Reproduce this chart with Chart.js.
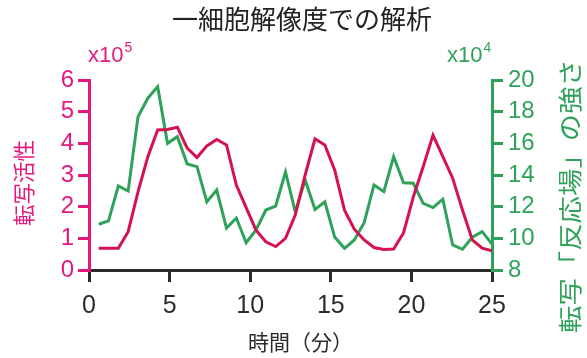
<!DOCTYPE html>
<html>
<head>
<meta charset="utf-8">
<script src="https://cdn.jsdelivr.net/npm/chart.js@4/dist/chart.umd.min.js"></script>
<style>
  html, body { margin: 0; padding: 0; background: #fff; }
  #wrap { width: 587px; height: 358px; position: relative; }
</style>
</head>
<body>
<div id="wrap"><canvas id="c" width="587" height="358"></canvas></div>
<script>
// Sampling times (minutes)
const times = [0.60, 1.21, 1.82, 2.43, 3.04, 3.65, 4.26, 4.87, 5.48, 6.09,
  6.70, 7.31, 7.92, 8.53, 9.14, 9.75, 10.36, 10.97, 11.58, 12.19,
  12.80, 13.41, 14.02, 14.63, 15.24, 15.85, 16.46, 17.07, 17.68, 18.29,
  18.90, 19.51, 20.12, 20.73, 21.34, 21.95, 22.56, 23.17, 23.78, 24.39, 25.00];

// Transcription activity (x10^5)
const activity = [0.69, 0.69, 0.69, 1.21, 2.47, 3.58, 4.42, 4.44, 4.51, 3.85,
  3.55, 3.92, 4.12, 3.95, 2.68, 1.97, 1.26, 0.89, 0.74, 1.00,
  1.74, 3.00, 4.14, 3.95, 3.16, 1.89, 1.29, 0.95, 0.71, 0.65,
  0.66, 1.17, 2.31, 3.26, 4.26, 3.58, 2.90, 1.89, 0.95, 0.69, 0.61];

// Strength of the transcription "reaction field" (x10^4)
const fieldStrength = [10.89, 11.10, 13.31, 12.99, 17.68, 18.85, 19.58, 16.00, 16.42, 14.70,
  14.53, 12.30, 13.05, 10.65, 11.28, 9.72, 10.53, 11.79, 12.04, 14.19,
  11.66, 13.69, 11.82, 12.31, 10.08, 9.37, 9.90, 10.99, 13.37, 12.95,
  15.16, 13.51, 13.48, 12.21, 11.94, 12.47, 9.58, 9.31, 10.07, 10.42, 9.64];

const xTicks = [0, 5, 10, 15, 20, 25];
const leftTicks = [0, 1, 2, 3, 4, 5, 6];
const rightTicks = [8, 10, 12, 14, 16, 18, 20];

const MAGENTA = '#e5187f';
const CRIMSON = '#d3124f';
const GREEN = '#2fa25a';
const DARK = '#2b2b2b';
const NUM_FONT = '"Liberation Sans", Arial, sans-serif';
const JP_FONT = '"Noto Sans CJK JP", sans-serif';

// Vertical text reading bottom-to-top, stretched/compressed to a given length
function drawVertical(ctx, text, cx, cy, length) {
  ctx.save();
  ctx.translate(cx, cy);
  ctx.rotate(-Math.PI / 2);
  const w = ctx.measureText(text).width;
  ctx.scale(length / w, 1);
  ctx.textAlign = 'center';
  ctx.textBaseline = 'middle';
  ctx.fillText(text, 0, 0);
  ctx.restore();
}

const labelsPlugin = {
  id: 'labels',
  afterDraw(chart) {
    const ctx = chart.ctx;
    const area = chart.chartArea;
    ctx.save();
    // title
    ctx.fillStyle = '#222';
    ctx.font = '26px ' + JP_FONT;
    ctx.textAlign = 'center';
    ctx.textBaseline = 'middle';
    ctx.fillText('一細胞解像度での解析', 302, 19);

    // axis titles
    ctx.fillStyle = MAGENTA;
    ctx.font = '22px ' + JP_FONT;
    drawVertical(ctx, '転写活性', 24, 183, 86);
    ctx.fillStyle = GREEN;
    ctx.font = '24px ' + JP_FONT;
    drawVertical(ctx, '転写「反応場」の強さ', 570, 196, 274);

    ctx.fillStyle = DARK;
    ctx.font = '21px ' + JP_FONT;
    ctx.textAlign = 'center';
    ctx.textBaseline = 'middle';
    ctx.fillText('時間（分）', (area.left + area.right) / 2 + 10, 342);

    // exponent labels
    ctx.textAlign = 'left';
    ctx.textBaseline = 'alphabetic';
    ctx.fillStyle = MAGENTA;
    ctx.font = '22px ' + NUM_FONT;
    ctx.fillText('x10', 88, 62);
    let w = ctx.measureText('x10').width;
    ctx.font = '14px ' + NUM_FONT;
    ctx.fillText('5', 88 + w + 1, 52);

    ctx.fillStyle = GREEN;
    ctx.font = '22px ' + NUM_FONT;
    ctx.fillText('x10', 447, 62);
    w = ctx.measureText('x10').width;
    ctx.font = '14px ' + NUM_FONT;
    ctx.fillText('4', 447 + w + 1, 52);
    ctx.restore();
  }
};

new Chart(document.getElementById('c'), {
  type: 'line',
  data: {
    datasets: [
      {
        label: '転写活性',
        data: times.map((t, i) => ({ x: t, y: activity[i] })),
        borderColor: CRIMSON,
        borderWidth: 3,
        pointRadius: 0,
        tension: 0,
        yAxisID: 'yL'
      },
      {
        label: '転写「反応場」の強さ',
        data: times.map((t, i) => ({ x: t, y: fieldStrength[i] })),
        borderColor: GREEN,
        borderWidth: 3,
        pointRadius: 0,
        tension: 0,
        yAxisID: 'yR'
      }
    ]
  },
  options: {
    responsive: false,
    animation: false,
    devicePixelRatio: 1,
    layout: { padding: { left: 0, right: 0, top: 80, bottom: 0 } },
    plugins: { legend: { display: false }, tooltip: { enabled: false }, title: { display: false } },
    scales: {
      x: {
        type: 'linear',
        min: 0, max: 25,
        afterFit(s) { s.height = 88; },
        afterBuildTicks(s) { s.ticks = xTicks.map(v => ({ value: v })); },
        border: { display: true, color: DARK, width: 3 },
        grid: { display: true, drawOnChartArea: false, drawTicks: true, tickLength: 12, color: DARK, lineWidth: 3 },
        ticks: { color: DARK, font: { family: NUM_FONT, size: 25 }, padding: 9, maxRotation: 0, autoSkip: false }
      },
      yL: {
        type: 'linear',
        position: 'left',
        min: 0, max: 6,
        afterFit(s) { s.width = 89; },
        afterBuildTicks(s) { s.ticks = leftTicks.map(v => ({ value: v })); },
        border: { display: true, color: MAGENTA, width: 3 },
        grid: { display: true, drawOnChartArea: false, drawTicks: true, tickLength: 11, color: MAGENTA, lineWidth: 3 },
        ticks: { color: MAGENTA, font: { family: NUM_FONT, size: 24 }, padding: 4, autoSkip: false }
      },
      yR: {
        type: 'linear',
        position: 'right',
        min: 8, max: 20,
        afterFit(s) { s.width = 95; },
        afterBuildTicks(s) { s.ticks = rightTicks.map(v => ({ value: v })); },
        border: { display: true, color: GREEN, width: 3 },
        grid: { display: true, drawOnChartArea: false, drawTicks: true, tickLength: 11, color: GREEN, lineWidth: 3 },
        ticks: { color: GREEN, font: { family: NUM_FONT, size: 24 }, padding: 5, autoSkip: false }
      }
    }
  },
  plugins: [labelsPlugin]
});
</script>
</body>
</html>
